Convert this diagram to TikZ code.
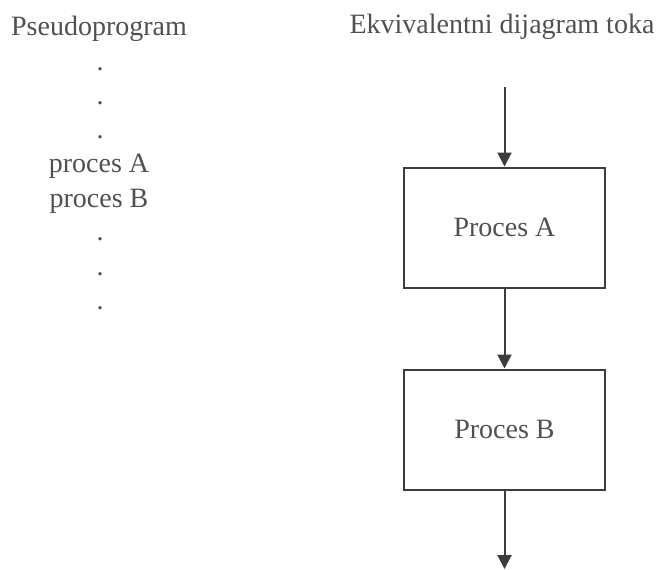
\documentclass[tikz,border=0pt]{standalone}
\usepackage{fontspec}
\setmainfont{Liberation Serif}
\usetikzlibrary{positioning,arrows.meta}

\definecolor{linegray}{HTML}{3C3C3C}
\definecolor{textgray}{HTML}{505050}

\tikzset{
    txt/.style={text=textgray,font=\fontsize{28}{34}\selectfont,inner sep=0pt},
    procbox/.style={draw=linegray,line width=2pt,minimum width=201pt,minimum height=120pt,txt},
    flow/.style={draw=linegray,line width=2pt,-{Triangle[width=14pt,length=14pt]}}
}

\begin{document}
\begin{tikzpicture}[x=1pt,y=-1pt]
        \useasboundingbox (0,0) rectangle (662,570);
        % pseudoprogram column
        \node[txt,anchor=base] (pseudo) at (99,35) {Pseudoprogram};
        \node[txt,anchor=base] (dot1) at (100,70) {.};
        \node[txt,anchor=base] (dot2) at (100,104) {.};
        \node[txt,anchor=base] (dot3) at (100,138) {.};
        \node[txt,anchor=base] (lineA) at (99,172) {proces A};
        \node[txt,anchor=base] (lineB) at (99,207) {proces B};
        \node[txt,anchor=base] (dot4) at (100,240) {.};
        \node[txt,anchor=base] (dot5) at (100,275) {.};
        \node[txt,anchor=base] (dot6) at (100,309) {.};
        % flow diagram
        \node[txt,anchor=base] (flowtitle) at (502,33) {Ekvivalentni dijagram toka};
        \coordinate (start) at (504.5,87);
        \node[procbox] (procA) at (504.5,227.5) {Proces A};
        \node[procbox,below=80pt of procA] (procB) {Proces B};
        \coordinate (end) at (504.5,569);
        \draw[flow] (start) -- (procA);
        \draw[flow] (procA) -- (procB);
        \draw[flow] (procB) -- (end);
\end{tikzpicture}
\end{document}
